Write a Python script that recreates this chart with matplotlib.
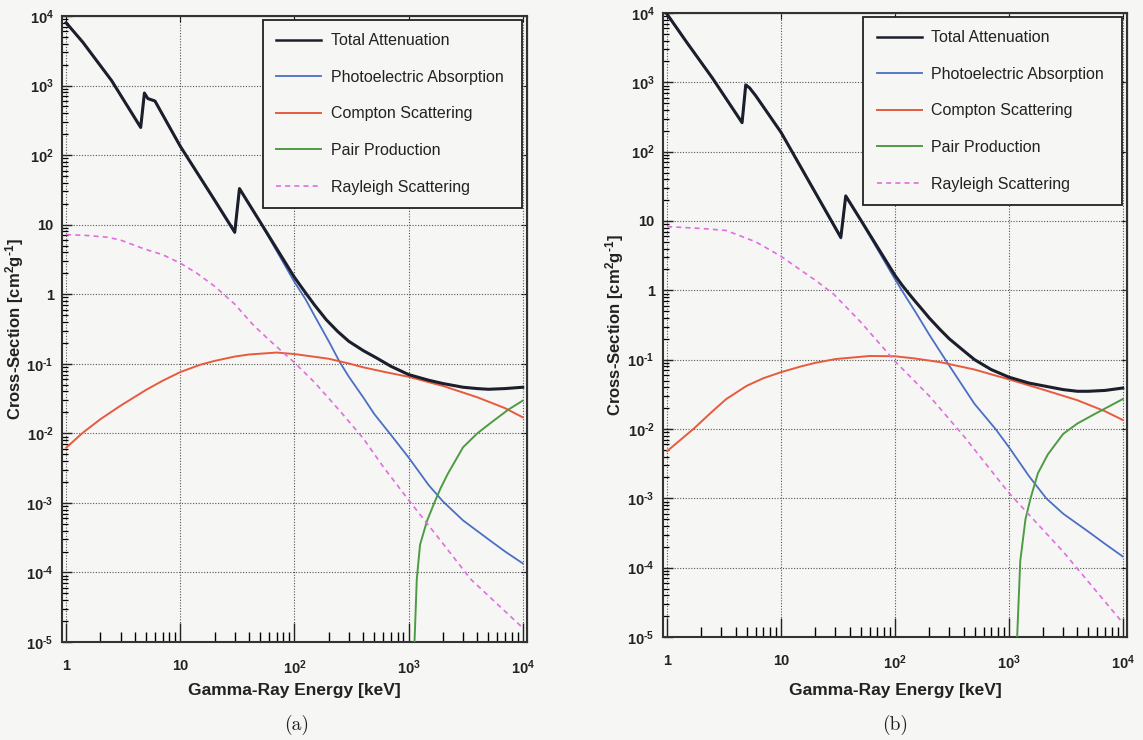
# Gamma-ray cross-sections for two scintillators, panels (a) and (b)
import numpy as np
import matplotlib
matplotlib.use('Agg')
import matplotlib.pyplot as plt
from matplotlib.ticker import FixedLocator, FixedFormatter, NullFormatter, NullLocator

plt.rcParams['font.family'] = ['Liberation Sans', 'DejaVu Sans']
plt.rcParams['mathtext.fontset'] = 'custom'
plt.rcParams['mathtext.rm'] = 'Liberation Sans:bold'
plt.rcParams['mathtext.it'] = 'Liberation Sans:bold'
plt.rcParams['mathtext.bf'] = 'Liberation Sans:bold'

# ---- data (energy in keV, cross-section in cm2/g) ----
# panel (a)
tot_a_E = [1, 1.4, 2.5, 4.5, 4.85, 5.2, 6, 10, 20, 30, 33, 50, 100, 125, 150, 190, 240,
           300, 400, 530, 700, 1000, 1500, 2000, 3000, 4000, 5000, 7000, 10000]
tot_a = [8000, 4200, 1180, 250, 780, 650, 600, 134, 22.5, 7.8, 33, 11.0, 1.75, 1.05, 0.70,
         0.43, 0.29, 0.21, 0.155, 0.12, 0.092, 0.070, 0.058, 0.052, 0.046, 0.044, 0.043,
         0.044, 0.046]
photo_a_E = [1, 1.4, 2.5, 4.5, 4.85, 5.2, 6, 10, 20, 30, 33, 50, 100, 125, 150, 200, 250,
             300, 400, 500, 700, 1000, 1500, 2000, 3000, 5000, 7000, 10000]
photo_a = [7990, 4190, 1175, 248, 778, 648, 598, 133, 22, 7.6, 32.8, 10.9, 1.5, 0.85, 0.49,
           0.21, 0.105, 0.065, 0.033, 0.019, 0.0095, 0.0045, 0.0018, 0.00105, 5.6e-4,
           3.0e-4, 2.0e-4, 1.35e-4]
compton_a_E = [1, 1.4, 2, 3, 5, 7, 10, 15, 20, 30, 40, 70, 100, 150, 200, 300, 400, 600,
               1000, 2000, 4000, 7000, 10000]
compton_a = [0.0062, 0.0102, 0.016, 0.025, 0.042, 0.057, 0.076, 0.097, 0.11, 0.127, 0.136,
             0.145, 0.138, 0.126, 0.118, 0.101, 0.089, 0.077, 0.065, 0.048, 0.033, 0.023,
             0.017]
pair_a_E = [1110, 1127, 1180, 1260, 1450, 1680, 1900, 2200, 3000, 4000, 5500, 7500, 10000]
pair_a = [1e-6, 1e-5, 8e-5, 2.5e-4, 5.5e-4, 1.0e-3, 1.6e-3, 2.6e-3, 6.3e-3, 1.0e-2, 1.5e-2,
          2.2e-2, 2.95e-2]
rayl_a_E = [1, 1.5, 2.3, 3, 4.8, 7, 10, 14, 20, 30, 43, 60, 100, 150, 190, 250, 400, 600,
            1000, 2000, 3500, 6000, 10000]
rayl_a = [7.2, 7.0, 6.6, 6.0, 4.5, 3.7, 2.8, 2.0, 1.3, 0.72, 0.37, 0.22, 0.104, 0.054, 0.035,
          0.021, 0.0085, 0.0033, 0.0011, 2.6e-4, 8e-5, 3.5e-5, 1.6e-5]

# panel (b)
tot_b_E = [1, 1.5, 2.5, 4.55, 4.9, 5.3, 6, 10, 20, 33.5, 37, 50, 100, 115, 130, 150, 175,
           200, 250, 300, 400, 500, 700, 1000, 1500, 2000, 3000, 4000, 5000, 7000, 10000]
tot_b = [9600, 3700, 1150, 262, 920, 830, 640, 190, 25.7, 5.8, 23, 10.4, 1.65, 1.2, 0.93,
         0.70, 0.52, 0.40, 0.27, 0.20, 0.135, 0.10, 0.072, 0.056, 0.046, 0.042, 0.037,
         0.035, 0.035, 0.036, 0.039]
photo_b_E = [1, 1.5, 2.5, 4.55, 4.9, 5.3, 6, 10, 20, 33.5, 37, 50, 100, 125, 150, 200, 250,
             300, 400, 500, 764, 1000, 1500, 2130, 3000, 5000, 7000, 10000]
photo_b = [9590, 3690, 1145, 260, 918, 828, 638, 189, 25.3, 5.6, 22.8, 10.2, 1.45, 0.8, 0.5,
           0.23, 0.13, 0.082, 0.04, 0.023, 0.01, 0.0055, 0.0021, 0.001, 6e-4, 3.3e-4,
           2.2e-4, 1.45e-4]
compton_b_E = [1, 1.7, 2.5, 3.3, 5, 7, 10, 15, 20, 30, 60, 100, 150, 250, 500, 1000, 2000,
               4000, 7000, 10000]
compton_b = [0.0048, 0.010, 0.018, 0.027, 0.042, 0.054, 0.066, 0.080, 0.09, 0.102, 0.113,
             0.112, 0.104, 0.092, 0.072, 0.052, 0.037, 0.026, 0.018, 0.0135]
pair_b_E = [1170, 1183, 1260, 1400, 1550, 1800, 2200, 3000, 4000, 5500, 7500, 10000]
pair_b = [1e-6, 1e-5, 1.25e-4, 5e-4, 1.0e-3, 2.3e-3, 4.3e-3, 8.5e-3, 1.2e-2, 1.6e-2, 2.1e-2,
          2.7e-2]
rayl_b_E = [1, 2, 3.3, 6, 10, 14, 20, 29, 50, 100, 200, 400, 1000, 3000, 10000]
rayl_b = [8.3, 7.8, 7.3, 5.0, 3.1, 2.1, 1.4, 0.88, 0.35, 0.095, 0.03, 0.008, 0.0012, 1.7e-4,
          1.6e-5]

series_names = ['Total Attenuation', 'Photoelectric Absorption', 'Compton Scattering',
                'Pair Production', 'Rayleigh Scattering']
panel_tags = ['(a)', '(b)']

HY = '\u2010'  # short hyphen for negative exponents
x_ticks = [1, 10, 100, 1000, 10000]
x_labels = ['1', '10', '$10^{2}$', '$10^{3}$', '$10^{4}$']
y_ticks = [1e4, 1e3, 1e2, 1e1, 1, 1e-1, 1e-2, 1e-3, 1e-4, 1e-5]
y_labels = ['$10^{4}$', '$10^{3}$', '$10^{2}$', '10', '1', '$10^{' + HY + '1}$',
            '$10^{' + HY + '2}$', '$10^{' + HY + '3}$', '$10^{' + HY + '4}$',
            '$10^{' + HY + '5}$']
y_title = 'Cross-Section [cm$^{2}$g$^{' + HY + '1}$]'
x_title = 'Gamma-Ray Energy [keV]'

bg = '#f6f6f4'
ink = '#222222'

fig = plt.figure(figsize=(11.43, 7.40), dpi=100, facecolor=bg)


def minor_positions():
    out = []
    for d in range(-5, 4):
        for m in range(2, 10):
            out.append(m * 10.0 ** d)
    return out


def draw_panel(rect, data, ylab_x, xlab_y, tag_x):
    ax = fig.add_axes(rect, facecolor=bg)
    ax.set_xscale('log')
    ax.set_yscale('log')
    (tE, t), (pE, p), (cE, c), (prE, pr), (rE, r) = data
    ax.plot(pE, p, color='#4b6fc6', lw=1.3, zorder=3)
    ax.plot(tE, t, color='#1b1f2b', lw=2.2, zorder=4, label=series_names[0])
    ax.plot([], [], color='#4b6fc6', lw=1.3, label=series_names[1])
    ax.plot(cE, c, color='#e85a3e', lw=1.4, zorder=3, label=series_names[2])
    ax.plot(prE, pr, color='#4f9b45', lw=1.4, zorder=3, label=series_names[3])
    ax.plot(rE, r, color='#e06ee0', lw=1.2, ls=(0, (3, 2.5)), zorder=3,
            label=series_names[4])

    ax.set_xlim(0.92, 1.09e4)
    ax.set_ylim(1e-5, 1e4)

    ax.xaxis.set_major_locator(FixedLocator(x_ticks))
    ax.xaxis.set_major_formatter(FixedFormatter(x_labels))
    ax.xaxis.set_minor_locator(FixedLocator([v for v in minor_positions() if 1 < v < 1e4]))
    ax.xaxis.set_minor_formatter(NullFormatter())
    ax.yaxis.set_major_locator(FixedLocator(y_ticks))
    ax.yaxis.set_major_formatter(FixedFormatter(y_labels))
    ax.yaxis.set_minor_locator(FixedLocator([v for v in minor_positions() if 1e-5 < v < 1e4]))
    ax.yaxis.set_minor_formatter(NullFormatter())

    ax.tick_params(axis='x', which='major', direction='in', length=14, width=1.0,
                   pad=12, labelsize=10.5, colors=ink, top=False)
    ax.tick_params(axis='x', which='minor', direction='in', length=7, width=1.0, top=False)
    ax.tick_params(axis='y', which='major', direction='in', length=7, width=1.0,
                   pad=6, labelsize=10.5, colors=ink, right=False)
    ax.tick_params(axis='y', which='minor', direction='in', length=4, width=0.9, right=False)
    for lab in ax.get_xticklabels() + ax.get_yticklabels():
        lab.set_fontweight('bold')

    # small ticks on the top and right spines
    sx = ax.secondary_xaxis('top')
    sx.xaxis.set_major_locator(FixedLocator(x_ticks))
    sx.xaxis.set_minor_locator(NullLocator())
    sx.tick_params(direction='in', length=4, labeltop=False)
    sy = ax.secondary_yaxis('right')
    sy.yaxis.set_major_locator(FixedLocator(y_ticks))
    sy.yaxis.set_minor_locator(NullLocator())
    sy.tick_params(direction='in', length=4, labelright=False)

    ax.grid(True, which='major', color='#555555', lw=0.8, ls=(0, (1, 1.5)))
    for s in ax.spines.values():
        s.set_linewidth(1.5)
        s.set_color('#333333')

    ax.set_xlabel(x_title, fontsize=12.5, fontweight='bold', color=ink, va='center')
    ax.xaxis.set_label_coords(0.5, xlab_y)
    ax.set_ylabel(y_title, fontsize=12, fontweight='bold', color=ink, va='center')
    ax.yaxis.set_label_coords(ylab_x, 0.5)

    leg = ax.legend(loc='upper left', bbox_to_anchor=(0.432, 0.695, 0.557, 0.299),
                    mode='expand', fontsize=11.5, frameon=True, fancybox=False,
                    framealpha=1, facecolor=bg, edgecolor='#222222', borderpad=0.85,
                    labelspacing=1.35, handlelength=2.8, handletextpad=0.6,
                    borderaxespad=0)
    leg.get_frame().set_linewidth(1.3)
    for line in leg.get_lines():
        line.set_linewidth(min(line.get_linewidth(), 1.8))
    for txt in leg.get_texts():
        txt.set_color(ink)

    fig.text(tag_x, 0.020, panel_tags.pop(0), fontfamily='cmr10', fontsize=14,
             ha='center', va='center', color=ink)
    return ax


data_a = [(tot_a_E, tot_a), (photo_a_E, photo_a), (compton_a_E, compton_a),
          (pair_a_E, pair_a), (rayl_a_E, rayl_a)]
data_b = [(tot_b_E, tot_b), (photo_b_E, photo_b), (compton_b_E, compton_b),
          (pair_b_E, pair_b), (rayl_b_E, rayl_b)]

draw_panel([62 / 1143, 98 / 740, 465 / 1143, 626 / 740], data_a, -0.103, -0.077, 297 / 1143)
draw_panel([663 / 1143, 103 / 740, 464 / 1143, 624 / 740], data_b, -0.104, -0.085, 895 / 1143)

fig.savefig('out.png', dpi=100, facecolor=bg)
